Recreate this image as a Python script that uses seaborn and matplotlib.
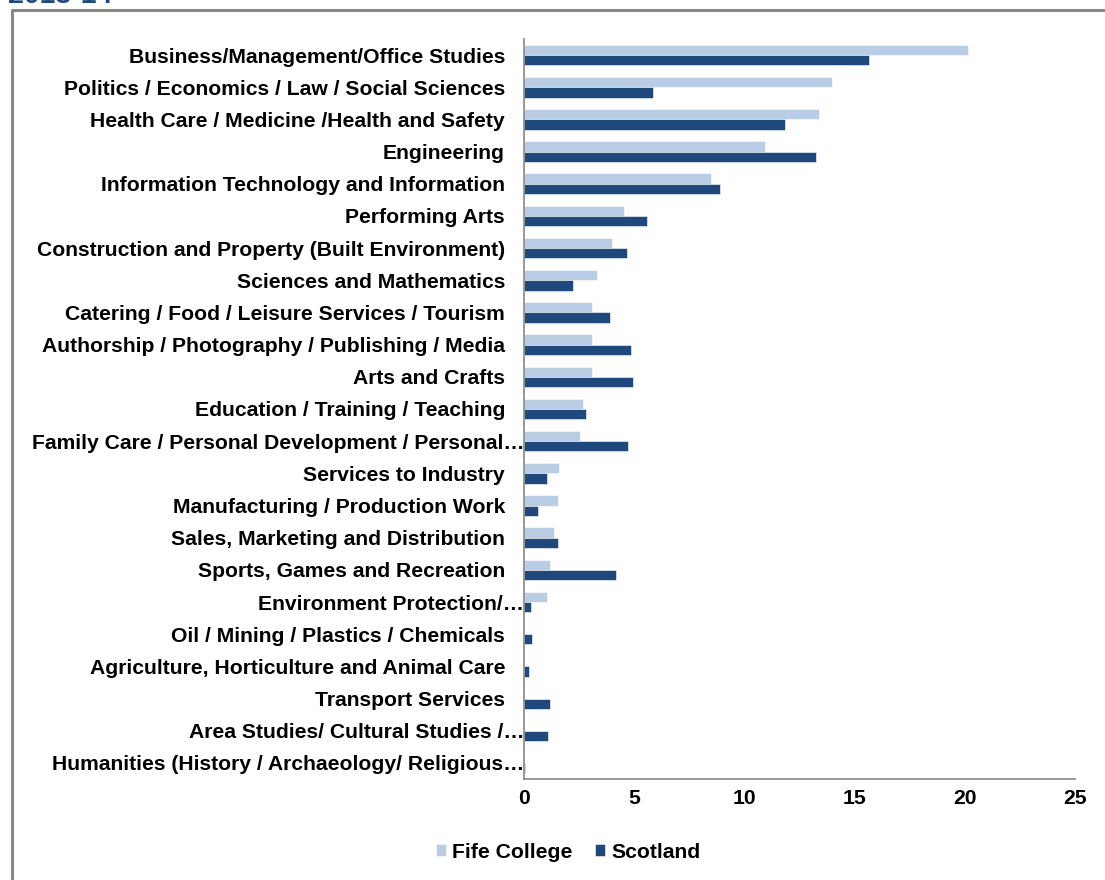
import pandas as pd
import matplotlib
matplotlib.use("Agg")
import matplotlib.pyplot as plt
import seaborn as sns
from matplotlib.lines import Line2D
from matplotlib.transforms import ScaledTranslation

#------1. Data (share of enrolments, %)------
categories = [
    "Business/Management/Office Studies",
    "Politics / Economics / Law / Social Sciences",
    "Health Care / Medicine /Health and Safety",
    "Engineering",
    "Information Technology and Information",
    "Performing Arts",
    "Construction and Property (Built Environment)",
    "Sciences and Mathematics",
    "Catering / Food / Leisure Services / Tourism",
    "Authorship / Photography / Publishing / Media",
    "Arts and Crafts",
    "Education / Training / Teaching",
    "Family Care / Personal Development / Personal…",
    "Services to Industry",
    "Manufacturing / Production Work",
    "Sales, Marketing and Distribution",
    "Sports, Games and Recreation",
    "Environment Protection/…",
    "Oil / Mining / Plastics / Chemicals",
    "Agriculture, Horticulture and Animal Care",
    "Transport Services",
    "Area Studies/ Cultural Studies /…",
    "Humanities (History / Archaeology/ Religious…",
]
fife = [20.15, 14.0, 13.4, 10.95, 8.5, 4.55, 4.0, 3.35, 3.1, 3.1, 3.1, 2.7,
        2.55, 1.6, 1.55, 1.4, 1.2, 1.05, 0, 0, 0, 0, 0]
scotland = [15.65, 5.85, 11.85, 13.25, 8.9, 5.6, 4.7, 2.25, 3.9, 4.85, 4.95, 2.85,
            4.75, 1.05, 0.65, 1.55, 4.2, 0.35, 0.4, 0.25, 1.2, 1.1, 0.07]
series = ["Fife College", "Scotland"]
xticks = [0, 5, 10, 15, 20, 25]

df = pd.DataFrame({
    "Subject": categories * 2,
    "Share": fife + scotland,
    "Series": [series[0]] * len(categories) + [series[1]] * len(categories),
})

#------2. Style------
sns.set_style("white")
plt.rcParams["font.family"] = ["Liberation Sans", "DejaVu Sans"]
plt.rcParams["font.weight"] = "bold"
plt.rcParams["text.color"] = "black"
plt.rcParams["xtick.labelcolor"] = "black"
plt.rcParams["ytick.labelcolor"] = "black"

light = "#B9CDE5"
dark = "#1F497D"
grey = "#868686"

#------3. Plot------
fig, ax = plt.subplots(figsize=(11.05, 8.8), dpi=100)
fig.subplots_adjust(left=0.4738, right=0.9729, bottom=0.1148, top=0.9557)

sns.barplot(data=df, x="Share", y="Subject", hue="Series", orient="h",
            palette=[light, dark], saturation=1, width=0.64, errorbar=None,
            edgecolor="white", linewidth=0.4, ax=ax)

ax.set_xlim(0, 25)
ax.set_ylim(len(categories) - 0.5, -0.5)
ax.set_xticks(xticks)
ax.set_xticklabels([str(t) for t in xticks])
ax.set_yticks([i - 0.5 for i in range(len(categories) + 1)], minor=True)
ax.set_xlabel("")
ax.set_ylabel("")

ax.tick_params(axis="y", which="major", length=0, pad=13.3, labelsize=15.2, labelcolor="black")
ax.tick_params(axis="y", which="minor", length=3.6, width=1.2, color=grey, direction="out")
ax.tick_params(axis="x", which="major", length=3.6, width=1.2, color=grey,
               direction="out", pad=3.5, labelsize=15.2, labelcolor="black")

for side in ["top", "right"]:
    ax.spines[side].set_visible(False)
for side in ["left", "bottom"]:
    ax.spines[side].set_color(grey)
    ax.spines[side].set_linewidth(1.2)

# truncated labels sit right up against the axis
for lab in ax.get_yticklabels():
    if lab.get_text().endswith("…"):
        lab.set_transform(lab.get_transform() + ScaledTranslation(0.19, 0, fig.dpi_scale_trans))

sns.move_legend(ax, "center", bbox_to_anchor=(568 / 1105, 28 / 880),
                bbox_transform=fig.transFigure, ncol=2, frameon=False, title=None,
                prop={"size": 15.2, "weight": "bold"}, handlelength=0.47,
                handleheight=0.47, handletextpad=0.28, columnspacing=1.1)
for txt in ax.get_legend().get_texts():
    txt.set_color("black")

#------4. Frame and cut-off title------
fig.add_artist(Line2D([11.5 / 1105, 11.5 / 1105, 1.01], [-0.01, 1 - 10 / 880, 1 - 10 / 880],
                      transform=fig.transFigure, color="#888888", lw=2.2))
fig.text(8 / 1105, 1 - 3 / 880, "2013-14", color=dark, fontsize=20.5,
         fontweight="bold", va="baseline", ha="left")

fig.savefig("out.png", dpi=100)
